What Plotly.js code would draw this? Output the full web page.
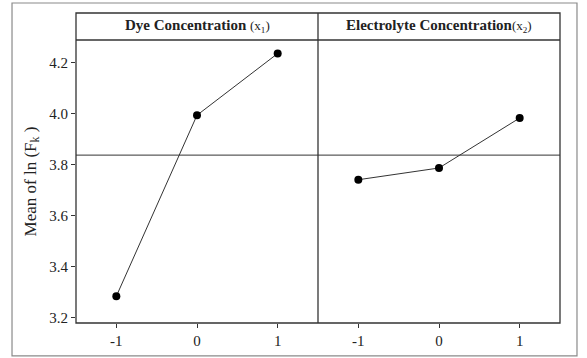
<!DOCTYPE html>
<html>
<head>
<meta charset="utf-8">
<script src="https://cdn.plot.ly/plotly-3.0.1.min.js"></script>
<style>html,body{margin:0;padding:0;background:#fff;}#chart{width:587px;height:358px;}</style>
</head>
<body>
<div id="chart"></div>
<script>
const levels = [-1, 0, 1];
const levelLabels = ['-1', '0', '1'];
const dyeMeans = [3.285, 3.995, 4.237];
const electrolyteMeans = [3.742, 3.788, 3.984];
const panelTitles = ['<b>Dye Concentration</b> <span style="font-size:13px">(x<sub>1</sub>)</span>',
                     '<b>Electrolyte Concentration</b><span style="font-size:13px">(x<sub>2</sub>)</span>'];
const yTicks = [3.2, 3.4, 3.6, 3.8, 4.0, 4.2];

const all = dyeMeans.concat(electrolyteMeans);
const grandMean = all.reduce((a, b) => a + b, 0) / all.length;

const lineCol = '#333';
const serif = 'Liberation Serif, Times New Roman, serif';
const mk = {size: 8, color: '#000'};

const traces = [
  {x: levels, y: dyeMeans, xaxis: 'x', yaxis: 'y', mode: 'lines+markers',
   line: {color: lineCol, width: 1}, marker: mk, hoverinfo: 'x+y'},
  {x: levels, y: electrolyteMeans, xaxis: 'x2', yaxis: 'y', mode: 'lines+markers',
   line: {color: lineCol, width: 1}, marker: mk, hoverinfo: 'x+y'}
];

const hdr = (323 - 40) / 310;
const axX = {
  range: [-1.5, 1.5], tickvals: levels, ticktext: levelLabels,
  ticks: 'outside', ticklen: 4, tickcolor: lineCol, showgrid: false, zeroline: false,
  showline: false, tickfont: {family: serif, size: 15, color: '#222'}
};

const layout = {
  width: 587, height: 358,
  margin: {l: 76, r: 27, t: 13, b: 35},
  paper_bgcolor: '#fff', plot_bgcolor: '#fff',
  showlegend: false,
  font: {family: serif, color: '#222'},
  xaxis: Object.assign({}, axX, {domain: [0, 0.5], anchor: 'y'}),
  xaxis2: Object.assign({}, axX, {domain: [0.5, 1], anchor: 'y'}),
  yaxis: {
    domain: [0, hdr], range: [3.18, 4.29], tickvals: yTicks,
    ticktext: yTicks.map(v => v.toFixed(1)),
    ticks: 'outside', ticklen: 4, tickcolor: lineCol, showgrid: false, zeroline: false,
    showline: false, tickfont: {family: serif, size: 15, color: '#222'},
    title: {text: 'Mean of ln (F<sub>k</sub> )', font: {family: serif, size: 17, color: '#222'}, standoff: 8}
  },
  shapes: [
    {type: 'rect', xref: 'paper', yref: 'paper', x0: -0.1322, x1: 1.0351, y0: -0.106, y1: 1.0323,
     line: {color: '#8a8a8a', width: 1.2}},
    {type: 'rect', xref: 'paper', yref: 'paper', x0: 0, x1: 1, y0: 0, y1: 1,
     line: {color: lineCol, width: 1.3}},
    {type: 'line', xref: 'paper', yref: 'paper', x0: 0, x1: 1, y0: hdr, y1: hdr,
     line: {color: lineCol, width: 1.3}},
    {type: 'line', xref: 'paper', yref: 'paper', x0: 0.5, x1: 0.5, y0: 0, y1: 1,
     line: {color: lineCol, width: 1.3}},
    {type: 'line', xref: 'paper', yref: 'y', x0: 0, x1: 1, y0: grandMean, y1: grandMean,
     line: {color: lineCol, width: 1}}
  ],
  annotations: [
    {xref: 'paper', yref: 'paper', x: 0.25, y: (1 + hdr) / 2, text: panelTitles[0], showarrow: false,
     font: {family: serif, size: 15, color: '#222'}, xanchor: 'center', yanchor: 'middle'},
    {xref: 'paper', yref: 'paper', x: 0.75, y: (1 + hdr) / 2, text: panelTitles[1], showarrow: false,
     font: {family: serif, size: 15, color: '#222'}, xanchor: 'center', yanchor: 'middle'}
  ]
};

Plotly.newPlot('chart', traces, layout, {displayModeBar: false, staticPlot: true});
</script>
</body>
</html>
